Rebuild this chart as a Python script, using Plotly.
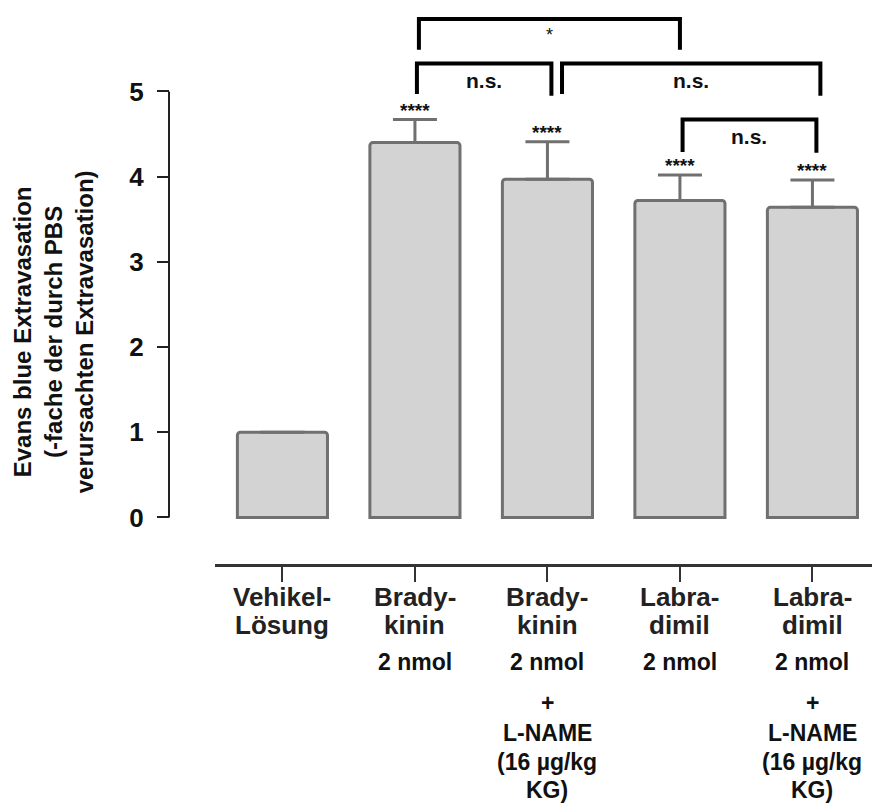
import plotly.graph_objects as go

# values
group_line1 = ["Vehikel-", "Brady-", "Brady-", "Labra-", "Labra-"]
group_line2 = ["Lösung", "kinin", "kinin", "dimil", "dimil"]
doses = ["", "2 nmol", "2 nmol", "2 nmol", "2 nmol"]
with_lname = [False, False, True, False, True]
means = [1.0, 4.40, 3.97, 3.72, 3.64]
sem = [0.0, 0.27, 0.44, 0.30, 0.32]
signif = ["", "****", "****", "****", "****"]

lname_lines = ["+", "L-NAME", "(16 µg/kg", "KG)"]

# comparison brackets: x from, x to, top, left leg end, right leg end, label
brackets = [
    (1.03, 3.00, 5.85, 5.49, 5.49, "*"),
    (1.015, 2.03, 5.33, 4.97, 4.95, "n.s."),
    (2.11, 4.06, 5.33, 4.97, 4.95, "n.s."),
    (3.02, 4.03, 4.67, 4.29, 4.28, "n.s."),
]

FONT = "Liberation Sans, Arial, sans-serif"
GREY = "#707070"
x = list(range(len(means)))

fig = go.Figure()
fig.add_trace(go.Bar(
    x=x,
    y=means,
    width=0.68,
    marker=dict(color="#d3d3d3", line=dict(color=GREY, width=3), cornerradius=3),
    error_y=dict(type="data", array=sem, arrayminus=[0] * len(sem), symmetric=False,
                 color=GREY, thickness=3, width=22),
    hoverinfo="skip",
))

shapes = [dict(type="line", xref="paper", yref="y", x0=0, x1=0, y0=0, y1=5,
               line=dict(color="#222", width=2))]
annotations = []

for x0, x1, top, yl, yr, label in brackets:
    shapes.append(dict(type="path", xref="x", yref="y",
                       path=f"M {x0},{yl} L {x0},{top} L {x1},{top} L {x1},{yr}",
                       line=dict(color="black", width=4)))
    if label == "*":
        annotations.append(dict(x=(x0 + x1) / 2, y=top, xref="x", yref="y", text="*",
                                showarrow=False, yanchor="top", yshift=-4,
                                font=dict(family=FONT, size=18, color="#111")))
    else:
        annotations.append(dict(x=(x0 + x1) / 2, y=top, xref="x", yref="y", text=label,
                                showarrow=False, yanchor="middle", yshift=-17,
                                font=dict(family=FONT, size=21, color="#111", weight="bold")))

for i, s in enumerate(signif):
    if s:
        annotations.append(dict(x=i, y=means[i] + sem[i], xref="x", yref="y", text=s,
                                showarrow=False, yanchor="bottom", yshift=-3,
                                font=dict(family=FONT, size=19, color="#111", weight="bold")))

# category labels below the x axis (offsets in px below the axis line)
for i in x:
    for txt, off in ((group_line1[i], 33), (group_line2[i], 61)):
        annotations.append(dict(x=i, y=0, xref="x", yref="paper", text=txt, showarrow=False,
                                yanchor="middle", yshift=-off,
                                font=dict(family=FONT, size=26, color="#222", weight="bold")))
    if doses[i]:
        annotations.append(dict(x=i, y=0, xref="x", yref="paper", text=doses[i], showarrow=False,
                                yanchor="middle", yshift=-98,
                                font=dict(family=FONT, size=23, color="#111", weight="bold")))
    if with_lname[i]:
        for txt, off in zip(lname_lines, [139, 169, 198, 226]):
            annotations.append(dict(x=i, y=0, xref="x", yref="paper", text=txt, showarrow=False,
                                    yanchor="middle", yshift=-off,
                                    font=dict(family=FONT, size=23, color="#111", weight="bold")))

annotations.append(dict(
    x=-0.163, y=0.417, xref="paper", yref="paper", textangle=-90, showarrow=False,
    xanchor="center", yanchor="middle",
    text="Evans blue Extravasation<br>(-fache der durch PBS<br>verursachten Extravasation)",
    font=dict(family=FONT, size=24, color="#111", weight="bold"),
))

fig.update_xaxes(
    domain=[0.0647, 1], range=[-0.509, 4.51],
    tickvals=x, ticktext=[""] * len(x),
    showline=True, linecolor="#333", linewidth=2.5,
    ticks="outside", ticklen=15, tickwidth=2, tickcolor="#333",
    showgrid=False, zeroline=False, fixedrange=True,
)
fig.update_yaxes(
    anchor="free", position=0, range=[-0.546, 5.98],
    tickvals=[0, 1, 2, 3, 4, 5], showline=False,
    ticks="outside", ticklen=12, tickwidth=2, tickcolor="#222",
    ticklabelstandoff=8,
    tickfont=dict(family=FONT, size=26, color="#111", weight="bold"),
    showgrid=False, zeroline=False, fixedrange=True,
)
# page body keeps an 8 px margin, so the figure is 8 px smaller than the window
fig.update_layout(
    width=872, height=797,
    margin=dict(l=161, r=0, t=0, b=241),
    plot_bgcolor="white", paper_bgcolor="white",
    showlegend=False,
    shapes=shapes, annotations=annotations,
)

fig.write_html("out.html")
